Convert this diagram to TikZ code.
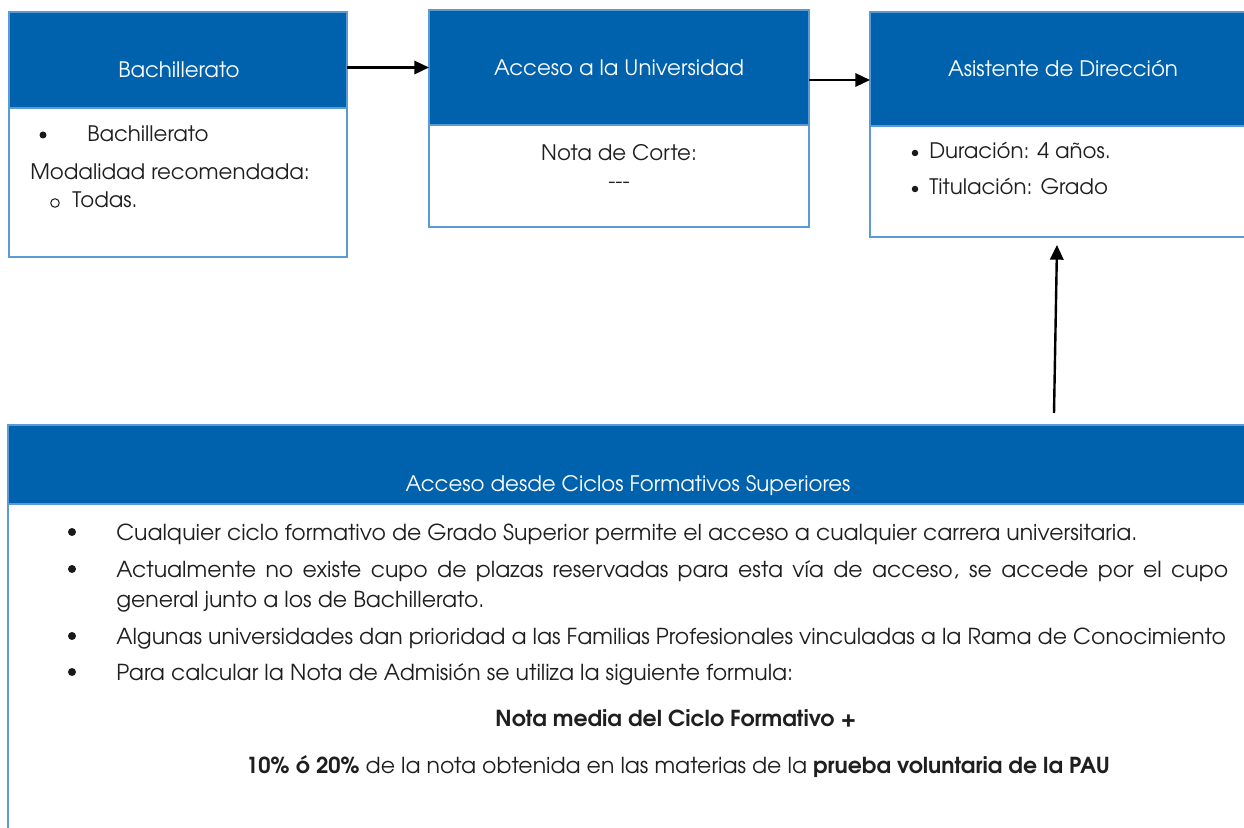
\documentclass[tikz,border=0pt]{standalone}
\usepackage{fontspec}
\setmainfont{TeX Gyre Adventor}
\usetikzlibrary{arrows.meta,calc}
\definecolor{hdr}{RGB}{0,97,173}
\definecolor{edgeblue}{RGB}{91,155,213}
\tikzset{
  x=0.75pt, y=-0.75pt,
  hbox/.style={draw=edgeblue, fill=hdr, line width=1.1pt, inner sep=0pt, outer sep=0pt, anchor=north west},
  bbox/.style={draw=edgeblue, fill=white, line width=1.1pt, inner sep=0pt, outer sep=0pt, anchor=north west},
  htext/.style={text=white, font=\fontsize{16}{19}\selectfont, inner sep=0pt, anchor=base},
  btext/.style={text=black!88, font=\fontsize{16}{19}\selectfont, inner sep=0pt},
  ltext/.style={text=black!88, font=\fontsize{16.5}{20}\selectfont, inner sep=0pt},
  dot/.style={circle, fill=black!90, inner sep=0pt, minimum size={#1*0.75pt}},
  dot/.default=7,
  ring/.style={circle, draw=black!90, line width=0.75pt, inner sep=0pt, minimum size={8.5*0.75pt}},
  conn/.style={line width=1.8pt, -{Triangle[length=11pt,width=10pt]}},
}
\begin{document}
\begin{tikzpicture}
\useasboundingbox (0,0) rectangle (1244,827);
\clip (0,0) rectangle (1244,827);
\fill[white] (0,0) rectangle (1244,827);

% Box 1
\node[bbox, minimum width={338*0.75pt}, minimum height={149*0.75pt}] (b1) at (9,108) {};
\node[hbox, minimum width={338*0.75pt}, minimum height={96*0.75pt}] (h1) at (9,12) {};
\node[htext] (t1) at (179,78) {Bachillerato};
\node[dot] (b1d) at (43,135) {};
\node[btext, anchor=base west] (b1a) at (87,142) {Bachillerato};
\node[btext, anchor=base west] (b1b) at (30,180) {Modalidad recomendada:};
\node[ring] (b1o) at (55,203) {};
\node[btext, anchor=base west] (b1c) at (72,208) {Todas.};

% Box 2
\node[bbox, minimum width={380*0.75pt}, minimum height={102*0.75pt}] (b2) at (429,125) {};
\node[hbox, minimum width={380*0.75pt}, minimum height={115*0.75pt}] (h2) at (429,10) {};
\node[htext] (t2) at (619,76) {Acceso a la Universidad};
\node[btext, anchor=base] (b2a) at (619,161) {Nota de Corte:};
\node[btext, anchor=base] (b2b) at (619,189) {-{}-{}-};

% Box 3
\node[bbox, minimum width={380*0.75pt}, minimum height={111*0.75pt}] (b3) at (870,126) {};
\node[hbox, minimum width={380*0.75pt}, minimum height={114*0.75pt}] (h3) at (870,12) {};
\node[htext] (t3) at (1063,77) {Asistente de Dirección};
\node[dot=6.5] (b3d1) at (915,153) {};
\node[btext, anchor=base west] (b3a) at (929,159) {Duración: 4 años.};
\node[dot=6.5] (b3d2) at (915,189) {};
\node[btext, anchor=base west] (b3b) at (929,195) {Titulación: Grado};

% Box 4
\node[bbox, minimum width={1242*0.75pt}, minimum height={350*0.75pt}] (b4) at (8,504) {};
\node[hbox, minimum width={1242*0.75pt}, minimum height={79*0.75pt}] (h4) at (8,425) {};
\node[htext] (t4) at (628,491) {Acceso desde Ciclos Formativos Superiores};

\node[dot=8] (d1) at (72,532) {};
\node[ltext, anchor=base west] (l1) at (116,540) {Cualquier ciclo formativo de Grado Superior permite el acceso a cualquier carrera universitaria.};
\node[dot=8] (d2) at (72,569) {};
\node[ltext, anchor=base west] (l2) at (116,577) {\makebox[834pt][s]{Actualmente no existe cupo de plazas reservadas para esta vía de acceso, se accede por el cupo}};
\node[ltext, anchor=base west] (l3) at (116,607) {general junto a los de Bachillerato.};
\node[dot=8] (d3) at (72,636) {};
\node[ltext, anchor=base west] (l4) at (116,644) {Algunas universidades dan prioridad a las Familias Profesionales vinculadas a la Rama de Conocimiento};
\node[dot=8] (d4) at (72,672) {};
\node[ltext, anchor=base west] (l5) at (116,680) {Para calcular la Nota de Admisión se utiliza la siguiente formula:};
\node[ltext, anchor=base] (f1) at (676,726) {\textbf{Nota media del Ciclo Formativo +}};
\node[ltext, anchor=base] (f2) at (678,773) {\textbf{10\% ó 20\%} de la nota obtenida en las materias de la \textbf{prueba voluntaria de la PAU}};

% Connectors
\draw[conn] (h1.east |- h2.west) -- (h2.west);
\coordinate (a2s) at ($(h2.east)+(0,12.5)$);
\draw[conn] (a2s) -- (a2s -| h3.west);
\coordinate (a3s) at ($(h4.north west)+(1046,-12)$);
\coordinate (a3e) at ($(b3.south west)+(187,8)$);
\draw[conn] (a3s) -- (a3e);
\end{tikzpicture}
\end{document}
